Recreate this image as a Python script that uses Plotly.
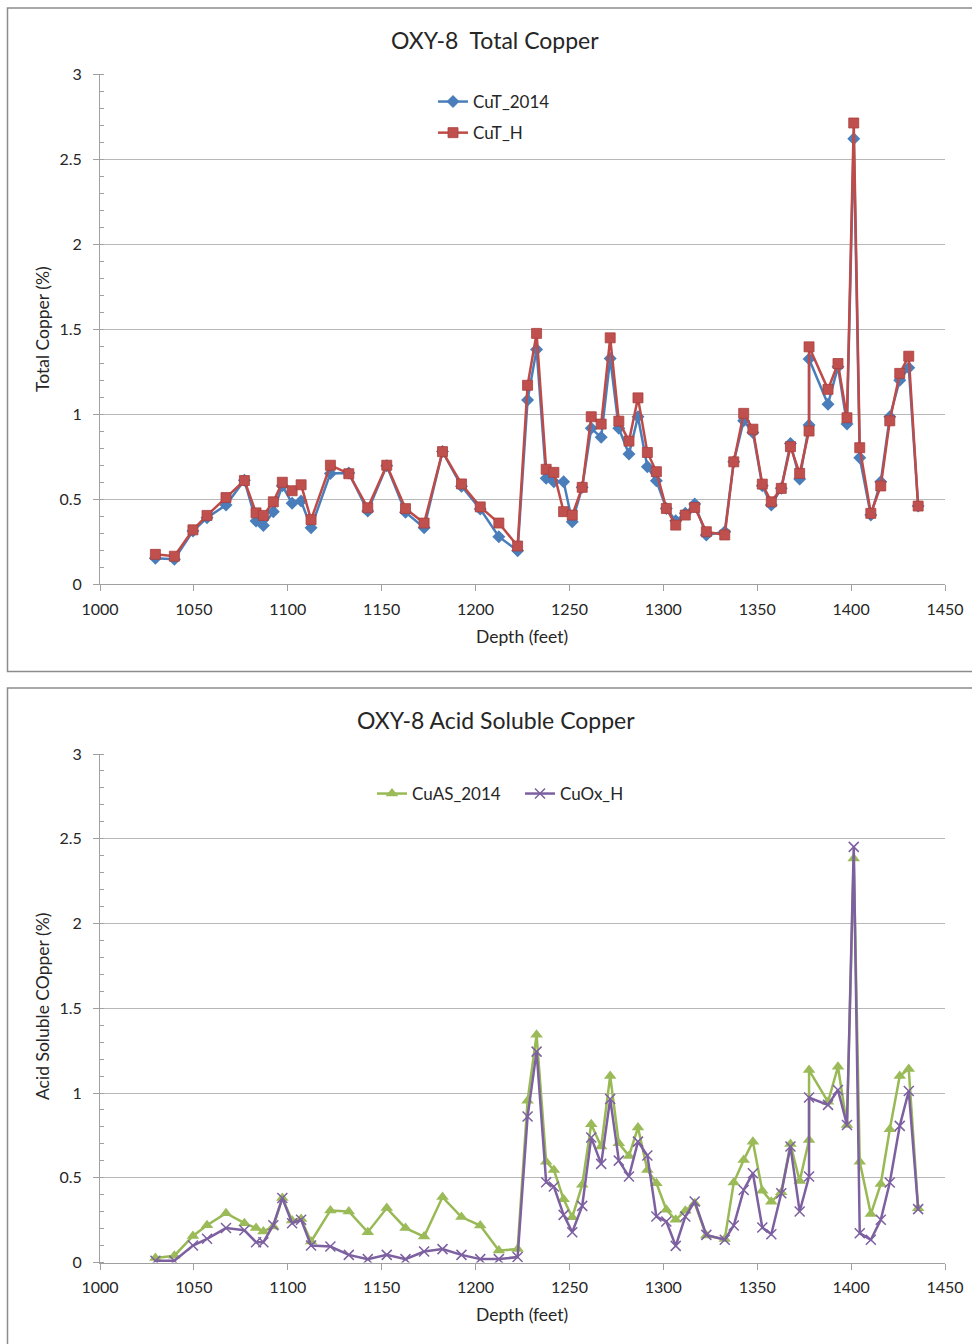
import plotly.graph_objects as go

depth = [1029.5, 1039.6, 1049.5, 1057.0, 1067.1, 1076.9, 1083.1, 1087.0, 1092.3, 1097.1,
         1102.3, 1107.1, 1112.4, 1122.7, 1132.5, 1142.6, 1152.7, 1162.7, 1172.6, 1182.4,
         1192.5, 1202.5, 1212.4, 1222.4, 1227.7, 1232.5, 1237.6, 1241.7, 1246.9, 1251.5,
         1256.8, 1261.6, 1266.9, 1271.7, 1276.3, 1281.7, 1286.5, 1291.5, 1296.3, 1301.6,
         1306.6, 1311.7, 1316.7, 1322.9, 1332.7, 1337.5, 1342.8, 1347.7, 1352.7, 1357.5,
         1362.8, 1367.7, 1372.6, 1377.6, 1377.6, 1387.7, 1393.0, 1397.8, 1401.4, 1404.6,
         1410.5, 1415.8, 1420.6, 1425.9, 1430.7, 1435.7]

cut_2014 = [0.153, 0.147, 0.313, 0.391, 0.466, 0.611, 0.372, 0.345, 0.427, 0.58,
            0.476, 0.489, 0.333, 0.652, 0.655, 0.431, 0.697, 0.423, 0.333, 0.78,
            0.577, 0.442, 0.28, 0.197, 1.083, 1.381, 0.623, 0.603, 0.603, 0.368,
            0.57, 0.917, 0.864, 1.328, 0.917, 0.766, 0.985, 0.691, 0.609, 0.446,
            0.374, 0.417, 0.472, 0.29, 0.309, 0.72, 0.961, 0.893, 0.58, 0.466,
            0.564, 0.828, 0.619, 0.936, 1.324, 1.059, 1.279, 0.942, 2.62, 0.744,
            0.407, 0.603, 0.985, 1.2, 1.273, 0.46]

cut_h = [0.176, 0.165, 0.32, 0.405, 0.51, 0.61, 0.42, 0.405, 0.485, 0.60,
         0.55, 0.585, 0.38, 0.70, 0.65, 0.45, 0.70, 0.445, 0.36, 0.78,
         0.59, 0.455, 0.36, 0.225, 1.17, 1.475, 0.676, 0.658, 0.427, 0.407,
         0.57, 0.985, 0.942, 1.449, 0.959, 0.842, 1.096, 0.775, 0.662, 0.446,
         0.348, 0.407, 0.452, 0.309, 0.29, 0.72, 1.005, 0.912, 0.589, 0.485,
         0.564, 0.809, 0.652, 0.901, 1.396, 1.146, 1.298, 0.979, 2.712, 0.803,
         0.417, 0.578, 0.961, 1.24, 1.341, 0.46]

cuas_2014 = [0.026, 0.04, 0.157, 0.22, 0.291, 0.232, 0.203, 0.183, 0.212, 0.38,
             0.248, 0.256, 0.124, 0.307, 0.301, 0.179, 0.321, 0.203, 0.153, 0.386,
             0.268, 0.218, 0.071, 0.079, 0.955, 1.343, 0.594, 0.546, 0.373, 0.267,
             0.458, 0.816, 0.684, 1.101, 0.704, 0.629, 0.796, 0.546, 0.468, 0.311,
             0.252, 0.306, 0.35, 0.159, 0.138, 0.472, 0.605, 0.713, 0.424, 0.359,
             0.415, 0.699, 0.481, 0.723, 1.135, 0.948, 1.155, 0.811, 2.383, 0.595,
             0.286, 0.463, 0.786, 1.1, 1.141, 0.32]

cuox_h = [0.01, 0.01, 0.1, 0.14, 0.203, 0.19, 0.12, 0.12, 0.22, 0.38,
          0.232, 0.252, 0.1, 0.094, 0.045, 0.02, 0.045, 0.02, 0.065, 0.079,
          0.045, 0.02, 0.02, 0.032, 0.861, 1.244, 0.473, 0.448, 0.281, 0.179,
          0.334, 0.737, 0.582, 0.965, 0.601, 0.507, 0.713, 0.631, 0.271, 0.242,
          0.098, 0.271, 0.36, 0.163, 0.134, 0.218, 0.428, 0.527, 0.206, 0.167,
          0.409, 0.684, 0.301, 0.507, 0.973, 0.93, 1.018, 0.811, 2.452, 0.173,
          0.134, 0.252, 0.472, 0.806, 1.012, 0.315]

W, H = 972, 1344
FONT = "Lato"
TXT = "#262626"
GRID = "#b8b8b8"
AXL = "#a0a0a0"

def px_x(p):
    return p / W

def px_y(p):
    return 1 - p / H

fig = go.Figure()

fig.add_trace(go.Scatter(x=depth, y=cut_2014, name="CuT_2014", mode="lines+markers",
                         line=dict(color="#4a7ebb", width=2.5),
                         marker=dict(symbol="diamond", size=10, color="#4a7ebb"),
                         xaxis="x", yaxis="y", legend="legend", legendgroup="a"))
fig.add_trace(go.Scatter(x=depth, y=cut_h, name="CuT_H", mode="lines+markers",
                         line=dict(color="#be4b48", width=2.5),
                         marker=dict(symbol="square", size=10, color="#c0504d",
                                     line=dict(color="#a8403d", width=0.8)),
                         xaxis="x", yaxis="y", legend="legend", legendgroup="b"))
fig.add_trace(go.Scatter(x=depth, y=cuas_2014, name="CuAS_2014", mode="lines+markers",
                         line=dict(color="#98b954", width=2.5),
                         marker=dict(symbol="triangle-up", size=11, color="#9bbb59"),
                         xaxis="x2", yaxis="y2", legend="legend2"))
fig.add_trace(go.Scatter(x=depth, y=cuox_h, name="CuOx_H", mode="lines+markers",
                         line=dict(color="#7d60a0", width=2.5),
                         marker=dict(symbol="x-thin", size=10, color="#7d60a0",
                                     line=dict(color="#7d60a0", width=1.5)),
                         xaxis="x2", yaxis="y2", legend="legend2"))

xdom = [px_x(100), px_x(945)]
top_dom = [px_y(584.3), px_y(74)]
bot_dom = [px_y(1262.5), px_y(754)]

def xaxis_cfg(anchor):
    return dict(domain=xdom, range=[1000, 1450], dtick=50, tick0=1000, anchor=anchor,
                automargin=False,
                showgrid=False, zeroline=False, showline=True, linecolor=AXL, linewidth=1,
                ticks="outside", ticklen=6, tickcolor=AXL, ticklabelstandoff=4,
                tickfont=dict(family=FONT, size=16, color=TXT), fixedrange=True)

def yaxis_cfg(dom, anchor):
    return dict(domain=dom, range=[0, 3], dtick=0.5, tick0=0, anchor=anchor,
                automargin=False,
                showgrid=True, gridcolor=GRID, gridwidth=1, zeroline=False,
                showline=True, linecolor=AXL, linewidth=1,
                ticks="outside", ticklen=6, tickcolor=AXL, ticklabelstandoff=8,
                minor=dict(ticks="inside", dtick=0.1, ticklen=4, tickcolor=AXL, showgrid=False),
                tickfont=dict(family=FONT, size=16, color=TXT), fixedrange=True)

annotations = [
    dict(text="OXY-8\u00a0 Total Copper", x=px_x(495.5), y=px_y(40), size=23),
    dict(text="OXY-8 Acid Soluble Copper", x=px_x(496), y=px_y(720), size=23),
    dict(text="Depth (feet)", x=px_x(522), y=px_y(636), size=17.5),
    dict(text="Depth (feet)", x=px_x(522), y=px_y(1314), size=17.5),
    dict(text="Total Copper (%)", x=px_x(43), y=px_y(329), size=17.5, angle=-90),
    dict(text="Acid Soluble COpper (%)", x=px_x(43), y=px_y(1007), size=17.5, angle=-90),
]
ann = []
for a in annotations:
    ann.append(dict(text=a["text"], x=a["x"], y=a["y"], xref="paper", yref="paper",
                    xanchor="center", yanchor="middle", showarrow=False,
                    textangle=a.get("angle", 0),
                    font=dict(family=FONT, size=a["size"], color=TXT)))

shapes = [
    dict(type="rect", xref="paper", yref="paper", x0=px_x(7.5), x1=px_x(980),
         y0=px_y(671.5), y1=px_y(8), line=dict(color="#8c8c8c", width=1.5)),
    dict(type="rect", xref="paper", yref="paper", x0=px_x(7.5), x1=px_x(980),
         y0=px_y(1360), y1=px_y(688), line=dict(color="#8c8c8c", width=1.5)),
]

fig.update_layout(
    width=W, height=H, autosize=False,
    margin=dict(l=0, r=0, t=0, b=0, pad=0, autoexpand=False),
    paper_bgcolor="white", plot_bgcolor="white",
    font=dict(family=FONT, size=16, color=TXT),
    xaxis=xaxis_cfg("y"),
    yaxis=yaxis_cfg(top_dom, "x"),
    xaxis2=xaxis_cfg("y2"),
    yaxis2=yaxis_cfg(bot_dom, "x2"),
    legend=dict(x=px_x(433), y=px_y(84), xanchor="left", yanchor="top",
                orientation="v", bgcolor="rgba(0,0,0,0)", borderwidth=0,
                tracegroupgap=6, font=dict(family=FONT, size=17, color=TXT)),
    legend2=dict(x=px_x(372), y=px_y(776), xanchor="left", yanchor="top",
                 orientation="h", bgcolor="rgba(0,0,0,0)", borderwidth=0,
                 entrywidth=103, entrywidthmode="pixels",
                 font=dict(family=FONT, size=17, color=TXT)),
    showlegend=True,
    annotations=ann,
    shapes=shapes,
)

fig.write_html("out.html")
